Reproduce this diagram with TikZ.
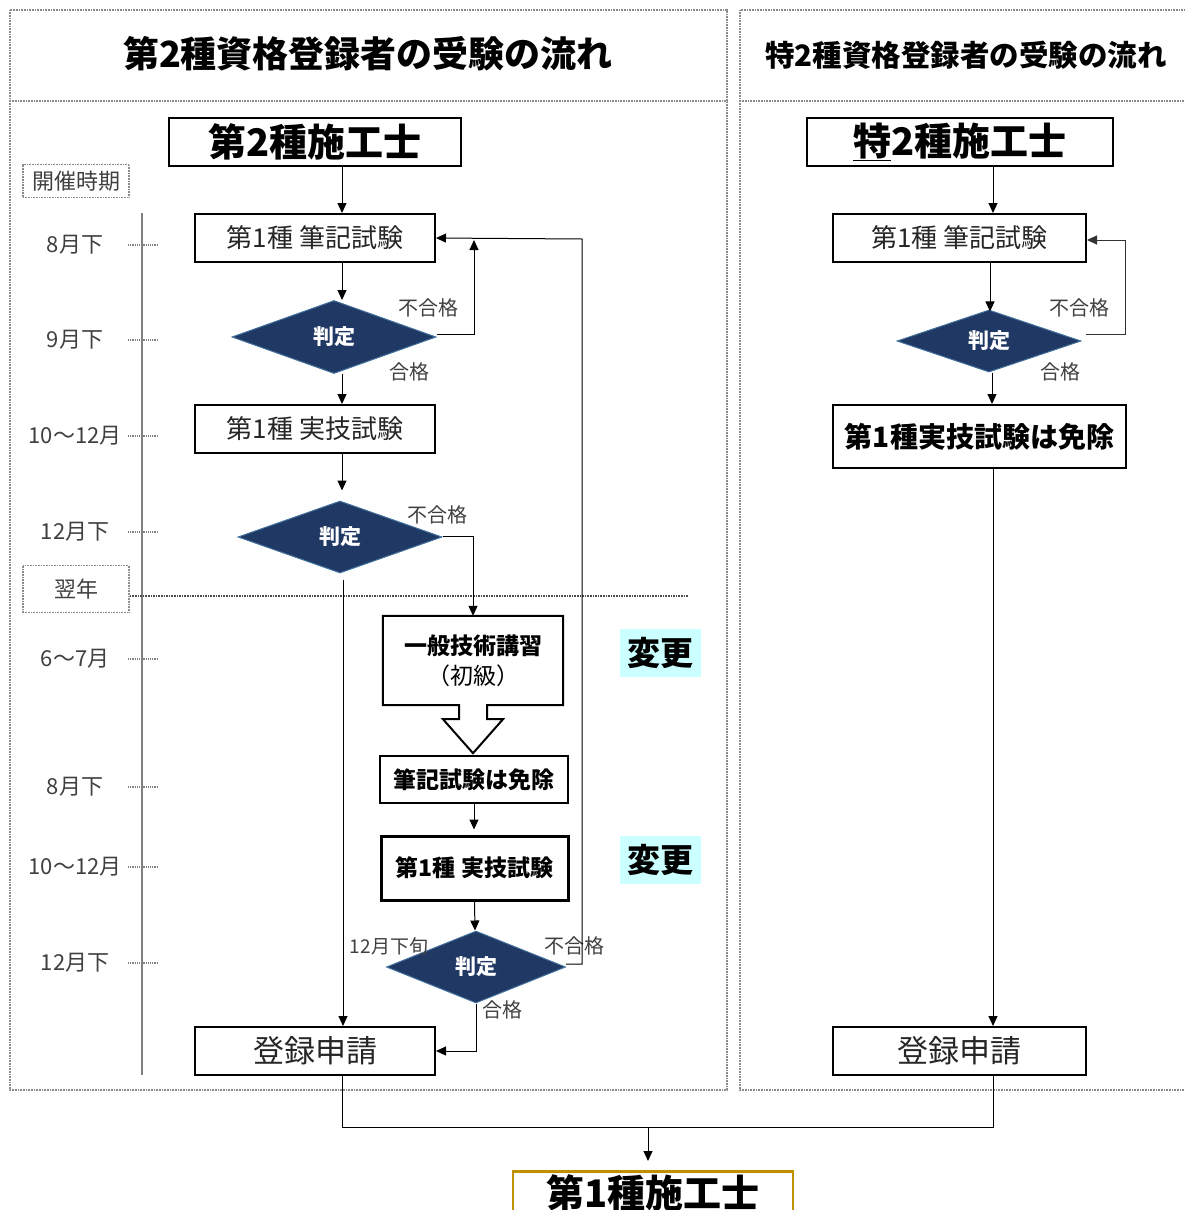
\documentclass[tikz,border=0pt]{standalone}
\usepackage{fontspec}
\setmainfont{Noto Sans CJK JP}
\usetikzlibrary{arrows.meta,shapes.geometric,calc}
\definecolor{navy}{HTML}{203864}
\definecolor{navyedge}{HTML}{41719C}
\definecolor{txtgray}{HTML}{404040}
\definecolor{panelgray}{HTML}{8C8C8C}
\definecolor{gold}{HTML}{BF9000}
\definecolor{lightcyan}{HTML}{CCFFFF}
\newcommand\fsz[1]{\fontsize{#1}{#1}\selectfont}
\tikzset{
  panel/.style={draw=panelgray, line width=1.8pt, dash pattern=on 1pt off 0.6pt},
  stepbox/.style={draw=black, line width=2pt, inner sep=0pt, text=black!85},
  thickbox/.style={draw=black, line width=2.4pt, inner sep=0pt, font=\bfseries\fsz{23}},
  judge/.style={diamond, fill=navy, draw=navyedge, line width=1pt, inner sep=0pt, text=white, font=\bfseries\fsz{21}},
  lbl/.style={text=txtgray, font=\fsz{20}, inner sep=0pt},
  month/.style={text=txtgray, font=\fsz{22}, inner sep=0pt},
  tag/.style={draw=panelgray, line width=1.5pt, dash pattern=on 1pt off 0.6pt, inner sep=0pt, text=txtgray, font=\fsz{22}},
  arr/.style={draw=black, line width=1pt, -{Triangle[length=10pt,width=9pt]}},
  conn/.style={draw=black, line width=1pt},
  tl/.style={draw=gray, line width=1.2pt},
  tick/.style={draw=gray, line width=1.2pt, densely dotted},
  change/.style={fill=lightcyan, inner sep=0pt, minimum width=81pt, minimum height=48pt, font=\bfseries\fsz{33}},
}
\begin{document}
\begin{tikzpicture}[x=1pt,y=-1pt]
\useasboundingbox (0,0) rectangle (1184,1210);
\fill[white] (0,0) rectangle (1184,1210);

% panels
\draw[panel] (10,10) rectangle (727,1090);
\draw[panel] (10,101) -- (727,101);
\draw[panel] (740,10) rectangle (1200,1090);
\draw[panel] (740,101) -- (1200,101);

% titles
\node[font=\bfseries\fsz{36}, inner sep=0pt] (t1) at (368,54) {第2種資格登録者の受験の流れ};
\node[font=\bfseries\fsz{29.5}, inner sep=0pt] (t2) at (966,55) {特2種資格登録者の受験の流れ};

% helper coordinates
\coordinate (cL) at (342,0);
\coordinate (cR) at (993,0);
\coordinate (cR2) at (990,0);

% ---------- left column ----------
\node[stepbox, minimum width=292pt, minimum height=48pt, font=\bfseries\fsz{38}, text=black] (s2) at (315,142) {第2種施工士};
\node[tag, minimum width=106pt, minimum height=33pt] (kaisai) at (76,181) {開催時期};

\node[stepbox, minimum width=240pt, minimum height=48pt, font=\fsz{26}] (w1) at (315,238) {第1種 筆記試験};
\node[judge, minimum width=204pt, minimum height=73pt] (d1) at (334,337) {判定};
\node[stepbox, minimum width=240pt, minimum height=48pt, font=\fsz{26}] (p1) at (315,429) {第1種 実技試験};
\node[judge, minimum width=204pt, minimum height=72pt] (d2) at (340,537) {判定};

\node[tag, minimum width=106pt, minimum height=47pt] (yoku) at (76,589) {翌年};

\node[minimum width=180pt, minimum height=89pt, inner sep=0pt, align=center, font=\bfseries\fsz{23}, text=black] (kosh) at (473,660.5) {一般技術講習\\[7pt]\mdseries（初級）};
\draw[line width=2pt, line join=miter]
  ($(kosh.south)+(-14,0)$) -- (kosh.south west) -- (kosh.north west) -- (kosh.north east) -- (kosh.south east) -- ($(kosh.south)+(14,0)$)
  -- ($(kosh.south)+(14,14)$) -- ($(kosh.south)+(30,14)$) -- ($(kosh.south)+(0,48)$) -- ($(kosh.south)+(-30,14)$) -- ($(kosh.south)+(-14,14)$) -- cycle;
\node[stepbox, minimum width=188pt, minimum height=47pt, font=\bfseries\fsz{23}, text=black] (menjo) at (474,779.5) {筆記試験は免除};
\node[thickbox, line width=3pt, minimum width=187pt, minimum height=64pt] (p2) at (474.5,868) {第1種 実技試験};
\node[judge, minimum width=179pt, minimum height=72pt] (d3) at (476,967) {判定};
\node[stepbox, minimum width=240pt, minimum height=48pt, font=\fsz{31}] (reg1) at (315,1051) {登録申請};

\node[change] (hen1) at (660.5,653) {変更};
\node[change] (hen2) at (660.5,860) {変更};

% timeline
\draw[tl] (142,213) -- (142,1075);
\foreach \yy/\tx/\nm in {245/8月下/m1, 340/9月下/m2, 436/10～12月/m3, 532/12月下/m4, 659/6～7月/m5, 787/8月下/m6, 867/10～12月/m7, 963/12月下/m8}{
  \node[month] (\nm) at (75,\yy) {\tx};
  \draw[tick] (128,\yy) -- (157,\yy);
}
\draw[draw=black!70, line width=1.6pt, densely dotted] (yoku.east |- 0,596) -- (688,596);

% labels
\node[lbl] (f1) at (428,308) {不合格};
\node[lbl] (g1) at (409,372) {合格};
\node[lbl] (f2) at (437,515) {不合格};
\node[lbl, font=\fsz{19}] (late) at (389,946) {12月下旬};
\node[lbl] (f3) at (574,946) {不合格};
\node[lbl] (g3) at (502,1010) {合格};

% connectors left
\draw[arr] (s2.south -| cL) -- (w1.north -| cL);
\draw[arr] (w1.south -| cL) -- (d1.north -| cL);
\draw[arr] (d1.south -| cL) -- (p1.north -| cL);
\draw[arr, shorten >=10pt] (p1.south -| cL) -- (d2.north -| cL);
\coordinate (j1) at (474,240);
\draw[arr] ($(d1.east)+(0,-3)$) -| (j1);
\coordinate (loopc) at (582,239);
\draw[arr] ($(d3.east)+(0,-3)$) -| (loopc) -- (w1.east);
\draw[arr] ($(d2.east)+(0,-1)$) -| (kosh.north);
\draw[arr] ($(d2.south -| cL)+(1,6)$) -- ($(reg1.north -| cL)+(1,0)$);
\draw[arr] (menjo.south) -- ($(p2.north)+(-0.5,-5)$);
\draw[arr] (p2.south) -- ($(d3.north)+(-1,0)$);
\draw[arr] (d3.south) |- (reg1.east);

% ---------- right column ----------
\node[stepbox, minimum width=306pt, minimum height=48pt, font=\bfseries\fsz{38}, text=black] (s2t) at (960,142) {\underline{特}2種施工士};
\node[stepbox, minimum width=253pt, minimum height=48pt, font=\fsz{26}] (w1r) at (959.5,238) {第1種 筆記試験};
\node[judge, minimum width=184pt, minimum height=60pt] (d1r) at (989,341) {判定};
\node[stepbox, minimum width=293pt, minimum height=63pt, font=\bfseries\fsz{28}, text=black] (menr) at (979.5,436.5) {第1種実技試験は免除};
\node[stepbox, minimum width=253pt, minimum height=48pt, font=\fsz{31}] (reg2) at (959.5,1051) {登録申請};

\node[lbl] (f1r) at (1079,308) {不合格};
\node[lbl] (g1r) at (1060,372) {合格};

\draw[arr] (s2t.south -| cR) -- (w1r.north -| cR);
\draw[arr] (w1r.south -| cR2) -- ($(d1r.north -| cR2)+(0,2)$);
\coordinate (jr) at (1125,240);
\draw[arr, draw=black!80] ($(d1r.east)+(4,-7)$) -| (jr) -- (w1r.east |- jr);
\draw[arr] (d1r.south -| cR2) ++(2,0) -- ($(menr.north -| cR2)+(2,0)$);
\draw[arr] (menr.south -| cR) -- (reg2.north -| cR);

% ---------- bottom ----------
\node[draw=gold, line width=2.5pt, minimum width=280pt, anchor=north, inner ysep=5pt, text height=31pt, text depth=40pt, font=\bfseries\fsz{38}, text=black] (s1) at (653,1170) {第1種施工士};
\coordinate (bl) at (342,1127);
\coordinate (jb) at (648,1127);
\draw[conn] (reg1.south -| cL) -- (bl) -| (reg2.south -| cR);
\draw[arr, shorten >=9pt] (jb) -- (s1.north -| jb);
\end{tikzpicture}
\end{document}
